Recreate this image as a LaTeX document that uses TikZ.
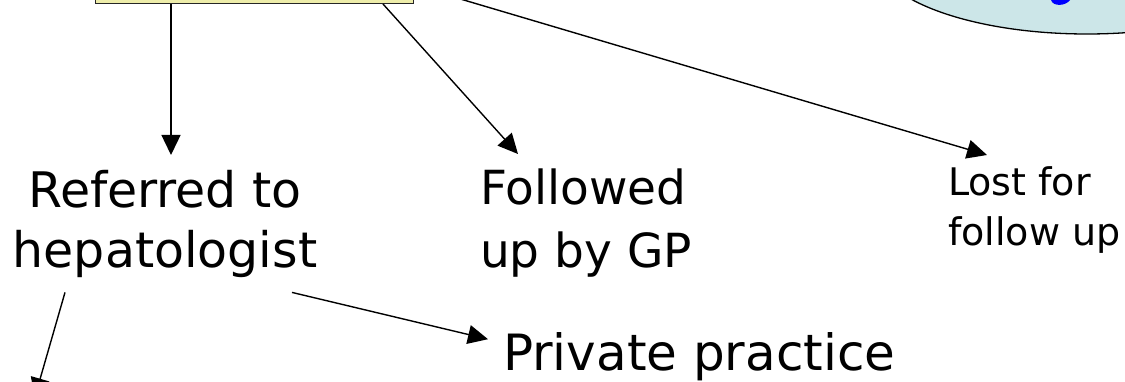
\documentclass[tikz,border=0pt]{standalone}
\usepackage{fontspec}
\usepackage{tikz}
\usetikzlibrary{positioning,arrows.meta,shapes.geometric,calc}
\usepackage{xcolor}
\newfontfamily\handfont{DejaVu Sans}
\definecolor{boxyellow}{HTML}{EEEDAA}
\definecolor{cloudcyan}{HTML}{CCE6E8}

\begin{document}
\begin{tikzpicture}[
    x=1pt, y=-1pt,
    startbox/.style={draw=black!85, fill=boxyellow, line width=1.3pt, inner sep=0pt},
    infocloud/.style={ellipse, draw=black, fill=cloudcyan, line width=1.3pt, inner sep=0pt},
    outcome/.style={font=\handfont\fontsize{49}{60}\selectfont, inner sep=0pt, outer sep=15pt},
    smalloutcome/.style={font=\handfont\fontsize{38}{50}\selectfont, inner sep=0pt, outer sep=15pt, align=left},
    flow/.style={draw=black, line width=1.4pt, -{Triangle[length=20pt,width=19pt]}}
]
    % Frame of the slide crop
    \useasboundingbox (0,0) rectangle (1125,382);
    \clip (0,0) rectangle (1125,382);

    % Top: the starting box and the cloud on the right
    \node[startbox, minimum width=318pt, minimum height=100pt, anchor=south west] (box) at (95,4) {};
    \node[infocloud, minimum width=426pt, minimum height=160pt] (cloud) at (1087,-46) {};
    \fill[blue] (1051,0) .. controls (1053,7) and (1066,6) .. (1070,0) -- cycle;

    % Outcomes
    \node[outcome, align=center, anchor=north] (refer) at (165,155) {Referred to\\hepatologist};
    \node[outcome, font=\handfont\fontsize{47}{63}\selectfont, align=left, anchor=north west] (follow) at (465,154) {Followed\\up by GP};
    \node[smalloutcome, anchor=north west] (lost) at (933,152) {Lost for\\follow up};
    \node[outcome, font=\handfont\fontsize{50}{60}\selectfont, anchor=base west] (private) at (488,370) {Private practice};
    \coordinate (below) at (34.6,398);

    % Connectors
    \draw[flow] ([xshift=76pt]box.south west) -- ([xshift=76pt]box.south west |- refer.north);
    \draw[flow] ([xshift=288pt]box.south west) -- ([xshift=53pt]follow.north west);
    \draw[flow] ([yshift=-32pt]box.east) -- ([xshift=54pt,yshift=-3pt]lost.north west);
    \draw[flow] ([xshift=127pt]refer.south) -- ([yshift=17pt]private.west);
    \draw[flow] ([xshift=-100pt]refer.south) -- (below);
\end{tikzpicture}
\end{document}
